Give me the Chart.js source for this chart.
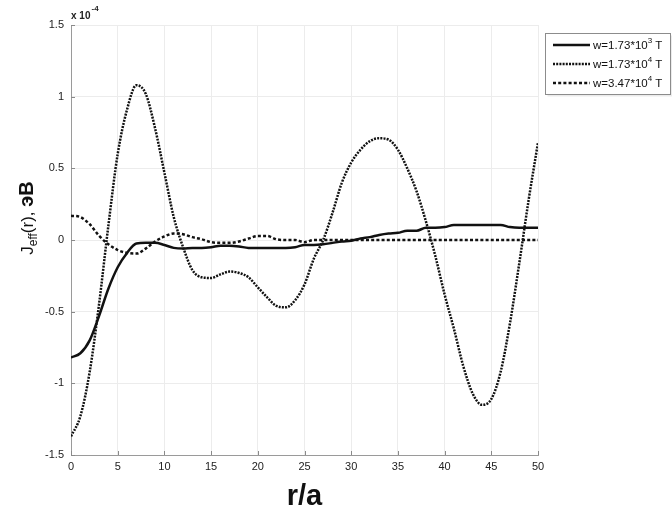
<!DOCTYPE html>
<html>
<head>
<meta charset="utf-8">
<script src="https://cdn.jsdelivr.net/npm/chart.js@4.4.0/dist/chart.umd.min.js"></script>
<style>
  html, body { margin: 0; padding: 0; background: #fff; }
  #wrap { width: 672px; height: 511px; }
</style>
</head>
<body>
<div id="wrap"><canvas id="jeffChart" width="672" height="511"></canvas></div>
<script>
// ------------ J_eff(r) DATA (units of 1e-4 eV) ------------ //

var rValues = [0, 1, 2, 3, 4, 5, 6, 7, 8, 9, 10, 11, 12, 13, 14, 15, 16, 17, 18, 19, 20,
    21, 22, 23, 24, 25, 26, 27, 28, 29, 30, 31, 32, 33, 34, 35, 36, 37, 38, 39, 40,
    41, 42, 43, 44, 45, 46, 47, 48, 49, 50];

// w = 1.73*10^3 T
var jeffW1 = [-0.82, -0.79, -0.70, -0.53, -0.34, -0.19, -0.09, -0.025, -0.02, -0.02, -0.035,
    -0.055, -0.06, -0.055, -0.055, -0.05, -0.04, -0.04, -0.045, -0.055, -0.055,
    -0.055, -0.055, -0.055, -0.05, -0.035, -0.035, -0.03, -0.02, -0.01, -0.005,
    0.01, 0.02, 0.035, 0.045, 0.05, 0.065, 0.065, 0.085, 0.085, 0.09,
    0.105, 0.105, 0.105, 0.105, 0.105, 0.105, 0.09, 0.085, 0.085, 0.085];

// w = 1.73*10^4 T
var jeffW2 = [-1.37, -1.23, -0.92, -0.45, 0.10, 0.60, 0.91, 1.08, 1.02, 0.78, 0.47,
    0.16, -0.05, -0.21, -0.26, -0.265, -0.24, -0.22, -0.23, -0.26, -0.33,
    -0.40, -0.46, -0.47, -0.42, -0.31, -0.13, 0.0, 0.19, 0.40, 0.54,
    0.63, 0.69, 0.71, 0.70, 0.63, 0.50, 0.34, 0.13, -0.11, -0.38,
    -0.62, -0.88, -1.07, -1.15, -1.11, -0.92, -0.58, -0.16, 0.28, 0.68];

// w = 3.47*10^4 T
var jeffW3 = [0.17, 0.16, 0.11, 0.03, -0.03, -0.07, -0.09, -0.095, -0.06, -0.01, 0.025,
    0.045, 0.04, 0.02, 0.005, -0.015, -0.02, -0.02, -0.01, 0.01, 0.028,
    0.028, 0.005, 0, 0, -0.015, 0, 0, 0, 0, 0,
    0, 0, 0, 0, 0, 0, 0, 0, 0, 0,
    0, 0, 0, 0, 0, 0, 0, 0, 0, 0];

var legendBase = ["w=1.73*10", "w=1.73*10", "w=3.47*10"];
var legendExp = ["3", "4", "4"];
var legendLabels = ["w=1.73*10³ T", "w=1.73*10⁴ T", "w=3.47*10⁴ T"];
var lineDashes = [[], [2, 1.2], [3, 2.2]];

var xTickStep = 5;
var yTickStep = 0.5;

function toPoints(vals) {
    return rValues.map(function (r, i) { return { x: r, y: vals[i] }; });
}

var FONT = "'Liberation Sans', Arial, sans-serif";

// ------------ extra drawing: inward ticks, exponent, y title, legend ------------ //

var decorPlugin = {
    id: "decor",
    afterDraw: function (chart) {
        var ctx = chart.ctx;
        var area = chart.chartArea;
        var xs = chart.scales.x, ys = chart.scales.y;

        // matlab-style ticks pointing into the plot
        ctx.save();
        ctx.strokeStyle = "#8a8a8a";
        ctx.lineWidth = 1;
        ctx.beginPath();
        xs.ticks.forEach(function (t) {
            var px = Math.round(xs.getPixelForValue(t.value)) + 0.5;
            ctx.moveTo(px, area.bottom);
            ctx.lineTo(px, area.bottom - 4);
        });
        ys.ticks.forEach(function (t) {
            var py = Math.round(ys.getPixelForValue(t.value)) + 0.5;
            ctx.moveTo(area.left, py);
            ctx.lineTo(area.left + 4, py);
        });
        ctx.stroke();
        ctx.restore();

        // axis multiplier x 10^-4
        ctx.save();
        ctx.fillStyle = "#222";
        ctx.textBaseline = "alphabetic";
        ctx.font = "bold 10px " + FONT;
        ctx.fillText("x 10", area.left, area.top - 6);
        var w = ctx.measureText("x 10").width;
        ctx.font = "bold 8px " + FONT;
        ctx.fillText("-4", area.left + w + 1, area.top - 14);
        ctx.restore();

        // y axis title: J_eff(r), эВ
        ctx.save();
        ctx.fillStyle = "#111";
        ctx.textBaseline = "alphabetic";
        var parts = [
            { t: "J", f: "17px " + FONT, dy: 0 },
            { t: "eff", f: "12px " + FONT, dy: 4 },
            { t: "(r), ", f: "17px " + FONT, dy: 0 },
            { t: "эВ", f: "bold 20px " + FONT, dy: 0 }
        ];
        var total = 0;
        parts.forEach(function (p) { ctx.font = p.f; p.w = ctx.measureText(p.t).width; total += p.w; });
        ctx.translate(33, 218 + total / 2);
        ctx.rotate(-Math.PI / 2);
        var x = 0;
        parts.forEach(function (p) {
            ctx.font = p.f;
            ctx.fillText(p.t, x, p.dy);
            x += p.w;
        });
        ctx.restore();

        // legend box
        var bx = 545.5, by = 33.5, bw = 125, bh = 61;
        ctx.save();
        ctx.fillStyle = "rgba(0,0,0,0.08)";
        ctx.fillRect(bx + 2, by + 2, bw, bh);
        ctx.fillStyle = "#fff";
        ctx.fillRect(bx, by, bw, bh);
        ctx.strokeStyle = "#8c8c8c";
        ctx.lineWidth = 1;
        ctx.strokeRect(bx, by, bw, bh);
        chart.data.datasets.forEach(function (ds, i) {
            var ry = 45 + i * 19;
            ctx.strokeStyle = ds.borderColor;
            ctx.lineWidth = ds.borderWidth;
            ctx.setLineDash(ds.borderDash || []);
            ctx.beginPath();
            ctx.moveTo(553, ry);
            ctx.lineTo(590, ry);
            ctx.stroke();
            ctx.setLineDash([]);
            ctx.fillStyle = "#111";
            ctx.textBaseline = "middle";
            ctx.font = "11.5px " + FONT;
            ctx.fillText(legendBase[i], 593, ry + 1);
            var tw = ctx.measureText(legendBase[i]).width;
            ctx.font = "8px " + FONT;
            ctx.fillText(legendExp[i], 593 + tw, ry - 4);
            var ew = ctx.measureText(legendExp[i]).width;
            ctx.font = "11.5px " + FONT;
            ctx.fillText(" T", 593 + tw + ew, ry + 1);
        });
        ctx.restore();
    }
};

new Chart("jeffChart", {
    type: "line",
    data: {
        datasets: [jeffW1, jeffW2, jeffW3].map(function (vals, i) {
            return {
                label: legendLabels[i],
                data: toPoints(vals),
                borderColor: "#111",
                borderWidth: 2.5,
                borderDash: lineDashes[i],
                pointRadius: 0,
                fill: false,
                cubicInterpolationMode: "monotone"
            };
        })
    },
    options: {
        responsive: false,
        animation: false,
        devicePixelRatio: 1,
        layout: { padding: { top: 25, right: 134, left: 0, bottom: 0 } },
        plugins: {
            legend: { display: false },
            tooltip: { enabled: false }
        },
        scales: {
            x: {
                type: "linear",
                min: 0,
                max: 50,
                afterFit: function (s) { s.height = 56; },
                ticks: {
                    stepSize: xTickStep,
                    padding: 5,
                    color: "#222",
                    font: { family: FONT, size: 11 },
                    maxRotation: 0
                },
                grid: { color: "#ececec", drawTicks: false },
                border: { display: true, color: "#9a9a9a" },
                title: {
                    display: true,
                    text: "r/a",
                    color: "#111",
                    padding: 0,
                    font: { family: FONT, size: 29, weight: "bold", lineHeight: 1 }
                }
            },
            y: {
                type: "linear",
                min: -1.5,
                max: 1.5,
                afterFit: function (s) { s.width = 71; },
                ticks: {
                    stepSize: yTickStep,
                    padding: 7,
                    color: "#222",
                    font: { family: FONT, size: 11 },
                    callback: function (v) { return String(v); }
                },
                grid: { color: "#ececec", drawTicks: false },
                border: { display: true, color: "#9a9a9a" }
            }
        }
    },
    plugins: [decorPlugin]
});
</script>
</body>
</html>
